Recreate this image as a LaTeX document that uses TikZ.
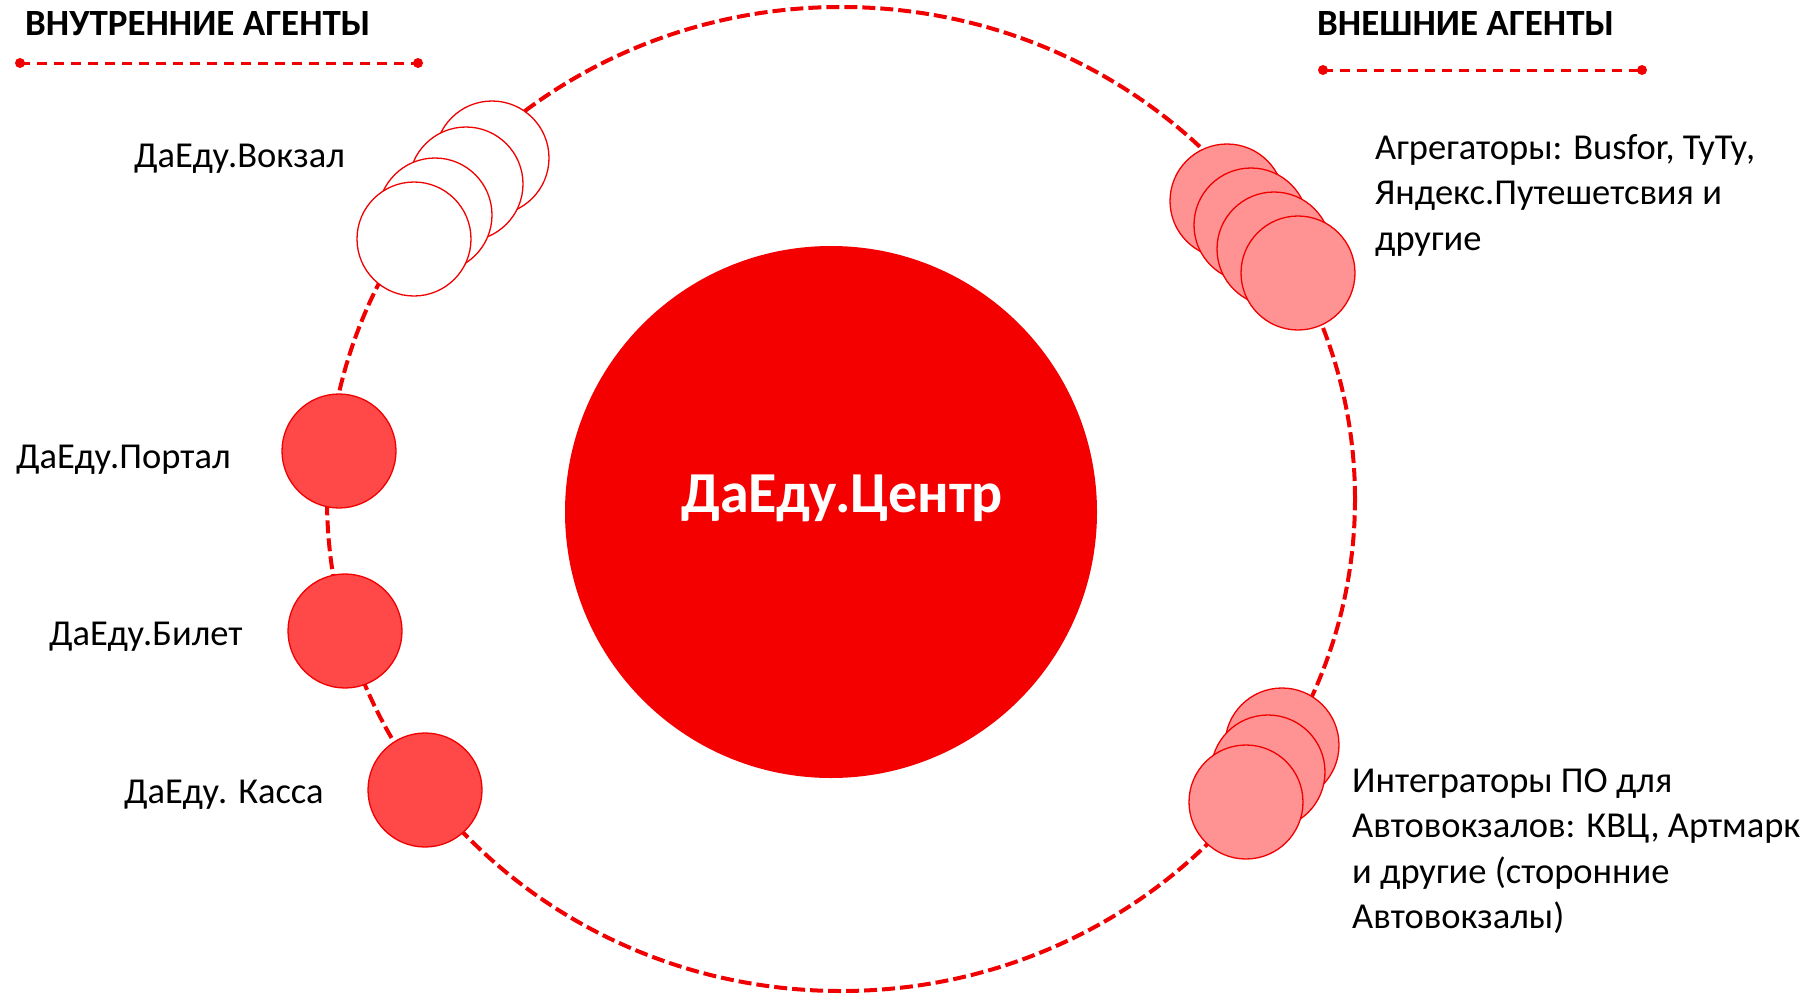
\documentclass[tikz,border=0pt]{standalone}
\usepackage{fontspec}
\setmainfont{Carlito}
\usetikzlibrary{shapes.geometric}
\definecolor{ddred}{HTML}{F40000}
\definecolor{linered}{HTML}{F00000}
\definecolor{midred}{HTML}{FF4949}
\definecolor{lightred}{HTML}{FF9393}
\tikzset{
  agent/.style={circle, draw=linered, line width=1.3pt, minimum size=114pt, inner sep=0pt},
  inner agent/.style={agent, fill=midred},
  station agent/.style={agent, fill=white},
  outer agent/.style={agent, fill=lightred},
  label text/.style={anchor=base west, inner sep=0pt, font=\fontsize{36.5}{45.5}\selectfont, align=left},
  title text/.style={anchor=base west, inner sep=0pt, font=\bfseries\fontsize{37}{44}\selectfont},
  legend line/.style={draw=linered, line width=3pt, dash pattern=on 10pt off 7pt},
  orbit line/.style={draw=linered, line width=4pt, dash pattern=on 13pt off 5pt},
}
\begin{document}
\begin{tikzpicture}[x=1pt, y=-1pt]
\useasboundingbox (0,0) rectangle (1816,996);
% orbit
\node[ellipse, orbit line, minimum width=1028pt, minimum height=984pt, inner sep=0pt] (orbit) at (841,499) {};
% centre
\node[circle, fill=ddred, minimum size=532pt, inner sep=0pt] (centre) at (831,512) {};
\node[anchor=base, inner sep=0pt, text=white, font=\bfseries\fontsize{58}{70}\selectfont] (centretext) at (842,512) {ДаЕду.Центр};
% Вокзал stack
\node[station agent] (v1) at (492,158) {};
\node[station agent] (v2) at (466,184) {};
\node[station agent] (v3) at (435,215) {};
\node[station agent] (v4) at (414,239) {};
% inner agents
\node[inner agent] (portal) at (339,451) {};
\node[inner agent] (bilet) at (345,631) {};
\node[inner agent] (kassa) at (425,790) {};
% aggregators
\node[outer agent] (a1) at (1227,201) {};
\node[outer agent] (a2) at (1251,225) {};
\node[outer agent] (a3) at (1274,249) {};
\node[outer agent] (a4) at (1298,273) {};
% integrators
\node[outer agent] (i1) at (1282,745) {};
\node[outer agent] (i2) at (1268,772) {};
\node[outer agent] (i3) at (1246,802) {};
% labels
\node[label text] (lv) at (134,167) {ДаЕду.Вокзал};
\node[label text] (lp) at (16,468) {ДаЕду.Портал};
\node[label text] (lb) at (49,645) {ДаЕду.Билет};
\node[label text] (lk) at (124,803) {ДаЕду. Касса};
\node[label text] (la) at (1375,250) {Агрегаторы: Busfor, ТуТу,\\Яндекс.Путешетсвия и\\другие};
\node[label text] (li) at (1352,928.5) {Интеграторы ПО для\\Автовокзалов: КВЦ, Артмарк\\и другие (сторонние\\Автовокзалы)};
% titles and legends
\node[title text] (t1) at (25,35) {ВНУТРЕННИЕ АГЕНТЫ};
\node[title text] (t2) at (1317,35) {ВНЕШНИЕ АГЕНТЫ};
\coordinate (l1a) at (20,63);
\coordinate (l1b) at (418,63);
\coordinate (l2a) at (1323,70);
\coordinate (l2b) at (1642,70);
\draw[legend line] (l1a) -- (l1b);
\draw[legend line] (l2a) -- (l2b);
\fill[linered] (l1a) circle (5pt) (l1b) circle (5pt) (l2a) circle (5pt) (l2b) circle (5pt);
\end{tikzpicture}
\end{document}
